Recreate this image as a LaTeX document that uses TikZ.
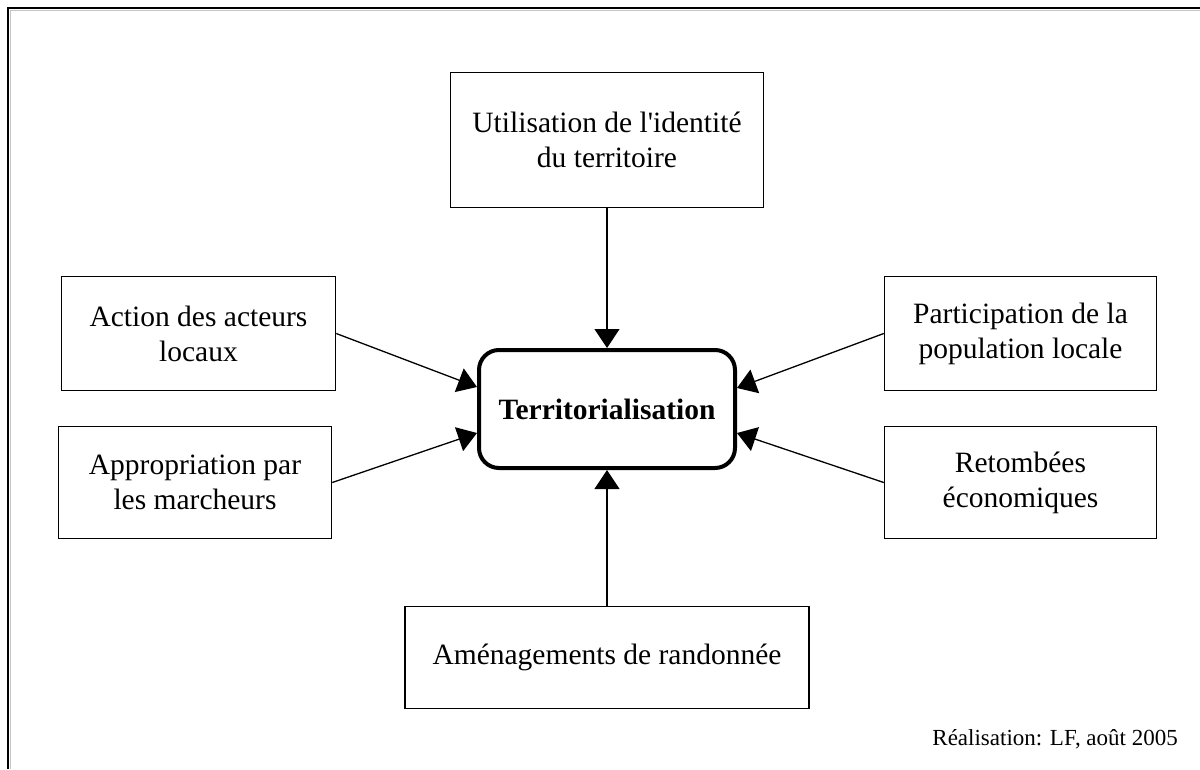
\documentclass[tikz,border=0pt]{standalone}
\usepackage{fontspec}
\setmainfont{Liberation Serif}
\usetikzlibrary{arrows.meta}

\begin{document}
\begin{tikzpicture}[x=1pt, y=-1pt,
  font=\fontsize{29.5}{35}\selectfont,
  box/.style={draw, line width=1.5pt, align=center, inner sep=4pt},
  hub/.style={draw, line width=4pt, rounded corners=20pt, align=center,
    minimum width=256pt, minimum height=118pt, font=\fontsize{29.5}{35}\selectfont\bfseries},
  arr/.style={-{Triangle[length=19pt, width=25pt]}, line width=1.3pt},
  note/.style={font=\fontsize{23}{27}\selectfont, inner sep=0pt}]
\useasboundingbox (0,0) rectangle (1200,769);
% ---- frame (only left and top edges show) ----
\draw[gray!45, line width=1.5pt] (10.5,769) |- (1200,10.5);
\draw[line width=2pt] (8,769) |- (1200,8);
% ---- central node ----
\node[hub] (terr) at (607,409) {Territorialisation};
% ---- factors ----
\node[box, minimum width=313pt, minimum height=135pt] (ident) at (607,140)
  {Utilisation de l\textquotesingle identité\\du territoire};
\node[box, minimum width=274pt, minimum height=114pt] (acteurs) at (198.5,333.5)
  {Action des acteurs\\locaux};
\node[box, minimum width=273pt, minimum height=112pt] (marcheurs) at (195,482.5)
  {Appropriation par\\les marcheurs};
\node[box, minimum width=272pt, minimum height=114pt] (popul) at (1020.5,333.5)
  {Participation de la\\population locale};
\node[box, minimum width=272pt, minimum height=112pt] (retomb) at (1020.5,482.5)
  {Retombées\\économiques};
\node[box, minimum width=404pt, minimum height=102pt] (amenag) at (607,657.5)
  {Aménagements de randonnée};
% ---- arrows into the hub ----
\draw[arr] (ident.south) -- (terr.north);
\draw[arr] (amenag.north) -- (terr.south);
\draw[arr] (acteurs.east) -- ([yshift=22pt]terr.west);
\draw[arr] (marcheurs.east) -- ([yshift=-24pt]terr.west);
\draw[arr] (popul.west) -- ([yshift=21pt]terr.east);
\draw[arr] (retomb.west) -- ([yshift=-24pt]terr.east);
% credit line
\node[note, anchor=base east] (credit) at (1178,745) {Réalisation: LF, août 2005};
\end{tikzpicture}
\end{document}
